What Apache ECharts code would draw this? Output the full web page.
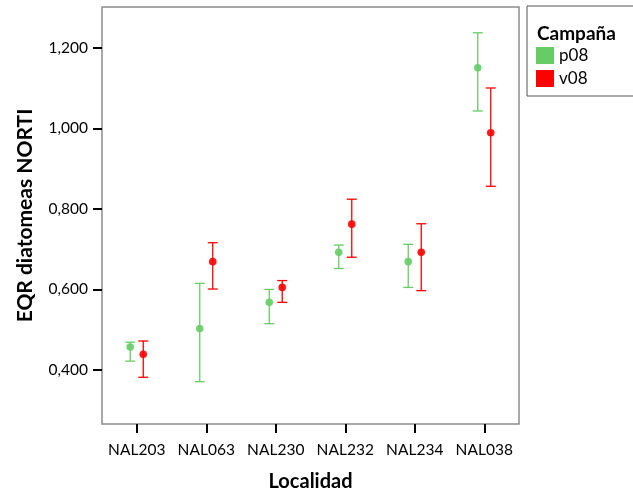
<!DOCTYPE html>
<html>
<head>
<meta charset="utf-8">
<script src="https://cdn.jsdelivr.net/npm/echarts@6/dist/echarts.min.js"></script>
<style>
  html, body { margin: 0; padding: 0; background: #fff; }
  #chart { width: 633px; height: 493px; }
</style>
</head>
<body>
<div id="chart"></div>
<script>
// Localities along the x axis
const categories = ['NAL203', 'NAL063', 'NAL230', 'NAL232', 'NAL234', 'NAL038'];

// Campaign p08: mean EQR and error-bar limits
const p08Mean = [0.457, 0.503, 0.568, 0.692, 0.669, 1.150];
const p08Low  = [0.422, 0.371, 0.515, 0.652, 0.605, 1.043];
const p08High = [0.469, 0.615, 0.600, 0.710, 0.712, 1.237];

// Campaign v08: mean EQR and error-bar limits
const v08Mean = [0.439, 0.669, 0.605, 0.762, 0.692, 0.989];
const v08Low  = [0.382, 0.601, 0.568, 0.680, 0.597, 0.856];
const v08High = [0.472, 0.716, 0.622, 0.824, 0.763, 1.100];

// Y axis tick values
const yTicks = [0.4, 0.6, 0.8, 1.0, 1.2];

const FONT = 'Lato';
const GREEN = '#66cc66';
const RED = '#ff0000';

function errorSeries(name, color, mean, low, high, offset) {
  return {
    name: name,
    type: 'custom',
    itemStyle: { color: color },
    data: categories.map((c, i) => [i, mean[i], low[i], high[i]]),
    encode: { x: 0, y: [1, 2, 3] },
    renderItem: function (params, api) {
      const i = api.value(0);
      const pm = api.coord([i, api.value(1)]);
      const pl = api.coord([i, api.value(2)]);
      const ph = api.coord([i, api.value(3)]);
      const x = pm[0] + offset;
      const cap = 5;
      const ls = { stroke: color, lineWidth: 1.3 };
      return {
        type: 'group',
        children: [
          { type: 'line', shape: { x1: x, y1: ph[1], x2: x, y2: pl[1] }, style: ls },
          { type: 'line', shape: { x1: x - cap, y1: ph[1], x2: x + cap, y2: ph[1] }, style: ls },
          { type: 'line', shape: { x1: x - cap, y1: pl[1], x2: x + cap, y2: pl[1] }, style: ls },
          { type: 'circle', shape: { cx: x, cy: pm[1], r: 3.8 }, style: { fill: color, opacity: 0.9 } }
        ]
      };
    }
  };
}

const chart = echarts.init(document.getElementById('chart'), null, { renderer: 'canvas' });
chart.setOption({
  animation: false,
  backgroundColor: '#fff',
  textStyle: { fontFamily: FONT },
  grid: {
    left: 102, right: 114, top: 7, bottom: 69,
    outerBoundsMode: 'none',
    show: true, borderColor: '#8c8c8c', borderWidth: 1.5, backgroundColor: '#fff'
  },
  title: {
    text: 'Campaña',
    left: 532, top: 19,
    textStyle: { fontFamily: FONT, fontWeight: 'bold', fontSize: 19, color: '#000' }
  },
  legend: {
    orient: 'vertical',
    left: 527, top: 6,
    width: 120,
    padding: [41, 60, 9, 9],
    borderColor: '#555', borderWidth: 1,
    itemWidth: 18, itemHeight: 17, itemGap: 6,
    icon: 'rect',
    textStyle: { fontFamily: FONT, fontSize: 17, color: '#000' },
    data: [
      { name: 'p08', itemStyle: { color: GREEN } },
      { name: 'v08', itemStyle: { color: RED } }
    ]
  },
  xAxis: {
    type: 'category',
    data: categories,
    boundaryGap: true,
    name: 'Localidad',
    nameLocation: 'middle',
    nameGap: 48,
    nameTextStyle: { fontFamily: FONT, fontWeight: 'bold', fontSize: 20, color: '#000' },
    axisLine: { show: false },
    axisTick: { show: true, interval: 0, alignWithLabel: true, length: 9, lineStyle: { color: '#000', width: 2 } },
    axisLabel: { interval: 0, hideOverlap: false, fontFamily: FONT, fontSize: 15.5, color: '#000', margin: 18 },
    splitLine: { show: false }
  },
  yAxis: {
    type: 'value',
    min: 0.266, max: 1.301,
    name: 'EQR diatomeas NORTI',
    nameLocation: 'middle',
    nameGap: 66,
    nameRotate: 90,
    nameTextStyle: { fontFamily: FONT, fontWeight: 'bold', fontSize: 21, color: '#000' },
    axisLine: { show: false },
    axisTick: { show: true, customValues: yTicks, length: 9, lineStyle: { color: '#000', width: 2 } },
    axisLabel: {
      customValues: yTicks, fontFamily: FONT, fontSize: 15.5, color: '#000', margin: 14,
      formatter: v => v.toFixed(3).replace('.', ',')
    },
    splitLine: { show: false }
  },
  series: [
    errorSeries('p08', GREEN, p08Mean, p08Low, p08High, -6.5),
    errorSeries('v08', RED, v08Mean, v08Low, v08High, 6.5)
  ]
});
</script>
</body>
</html>
